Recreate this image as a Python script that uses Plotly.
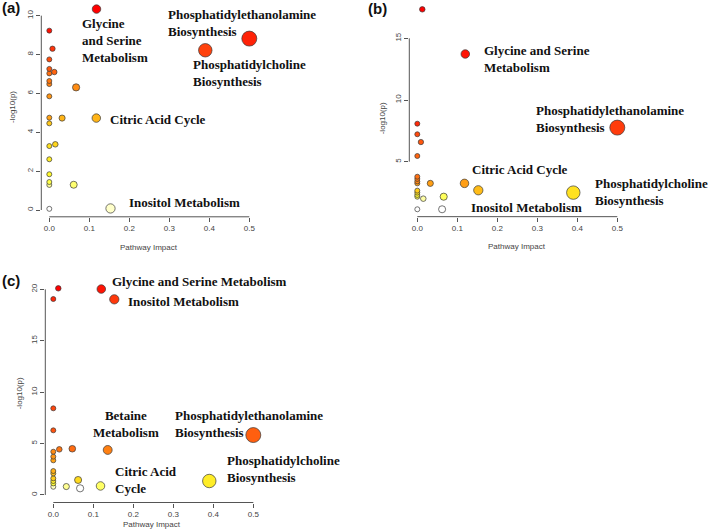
import numpy as np
import pandas as pd
import plotly.graph_objects as go

# ---------------- data ----------------
# Panel (a)
a_impact = [0.118, 0, 0.008, 0, 0, 0, 0.0125, 0, 0, 0.067, 0, 0.39, 0.5, 0, 0, 0.032,
            0.1175, 0, 0.015, 0, 0, 0, 0, 0.061, 0, 0.153]
a_logp = [10.34, 9.23, 8.30, 7.75, 7.26, 7.03, 7.10, 6.64, 6.48, 6.31, 5.85, 8.22, 8.82,
          4.75, 4.46, 4.73, 4.73, 3.29, 3.38, 2.61, 1.84, 1.44, 1.29, 1.30, 0.06, 0.08]
a_labels = {0: "Glycine<br>and Serine<br>Metabolism",
            12: "Phosphatidylethanolamine<br>Biosynthesis",
            11: "Phosphatidylcholine<br>Biosynthesis",
            16: "Citric Acid Cycle",
            25: "Inositol Metabolism"}

# Panel (b)
b_impact = [0.0125, 0.12, 0, 0, 0.009, 0, 0.5, 0, 0, 0, 0, 0.0325, 0.118, 0.1525, 0.39,
            0, 0, 0, 0, 0.015, 0.066, 0, 0.062]
b_logp = [17.35, 13.73, 8.08, 7.22, 6.59, 5.46, 7.76, 3.78, 3.60, 3.40, 3.24, 3.24, 3.24,
          2.68, 2.49, 2.65, 2.49, 2.30, 2.16, 2.00, 2.16, 1.14, 1.14]
b_labels = {1: "Glycine and Serine<br>Metabolism",
            6: "Phosphatidylethanolamine<br>Biosynthesis",
            12: "Citric Acid Cycle",
            13: "Inositol Metabolism",
            14: "Phosphatidylcholine<br>Biosynthesis"}

# Panel (c)
c_impact = [0.0125, 0, 0.12, 0.1525, 0, 0, 0.5, 0, 0.015, 0.0475, 0.136, 0, 0, 0, 0, 0,
            0, 0, 0, 0.0325, 0.062, 0.067, 0.118, 0.39]
c_logp = [20.10, 19.06, 20.03, 19.03, 8.43, 6.29, 5.83, 4.21, 4.44, 4.50, 4.38, 3.73, 3.37,
          2.33, 2.10, 1.62, 1.36, 1.13, 0.80, 0.82, 1.46, 0.65, 0.88, 1.36]
c_labels = {2: "Glycine and Serine Metabolism",
            3: "Inositol Metabolism",
            6: "Phosphatidylethanolamine<br>Biosynthesis",
            10: "Betaine<br>Metabolism",
            22: "Citric Acid<br>Cycle",
            23: "Phosphatidylcholine<br>Biosynthesis"}

x_ticks = [0.0, 0.1, 0.2, 0.3, 0.4, 0.5]
a_yticks = [0, 2, 4, 6, 8, 10]
b_yticks = [5, 10, 15]
c_yticks = [0, 5, 10, 15, 20]

# ---------------- styling / layout config ----------------
W, H = 708, 530
heat = [[0.0, "#ffffff"], [0.06, "#ffffb0"], [0.18, "#ffff30"], [0.33, "#ffd21a"],
        [0.5, "#ff9a14"], [0.7, "#ff6a10"], [0.86, "#ff3c0c"], [1.0, "#ff0000"]]

# label offsets (pixels) relative to their point: xshift, yshift, xanchor, align
a_off = {0: (-17, -31, "left", "left"), 12: (-83, 16, "left", "left"),
         11: (-14, -23, "left", "left"), 16: (12, -1, "left", "left"),
         25: (16, 6, "left", "left")}
b_off = {1: (17, -5, "left", "left"), 6: (-83, 9, "left", "left"),
         12: (5, 14, "left", "left"), 13: (-9, -17, "left", "left"),
         14: (20, 1, "left", "left")}
c_off = {2: (9, 8, "left", "left"), 3: (12, -2, "left", "left"),
         6: (-80, 11, "left", "left"), 10: (18, 26, "center", "center"),
         22: (12, 6, "left", "left"), 23: (16, 12, "left", "left")}

panels = [
    dict(ix="", impact=a_impact, logp=a_logp, labels=a_labels, off=a_off, yticks=a_yticks,
         xdom=[41.3, 257.3], ypx=[216.8, 1.1], yrange=[-0.35, 10.75],
         tag="(a)", tagpos=(0, 8), xt=(149, 247), yt=(12, 107)),
    dict(ix="2", impact=b_impact, logp=b_logp, labels=b_labels, off=b_off, yticks=b_yticks,
         xdom=[409.3, 625.3], ypx=[216.67, 1.33], yrange=[0.54, 18.0],
         tag="(b)", tagpos=(366, 9), xt=(517.3, 246.7), yt=(383.3, 118)),
    dict(ix="3", impact=c_impact, logp=c_logp, labels=c_labels, off=c_off, yticks=c_yticks,
         xdom=[45.3, 261.3], ypx=[502.5, 280.1], yrange=[-0.73, 20.9],
         tag="(c)", tagpos=(0, 280), xt=(151.7, 524), yt=(19.3, 393)),
]

fig = go.Figure()
annotations = []
shapes = []
tickfont = dict(family="Liberation Sans, Arial", size=8, color="#444")
axcol = "#555"

for p in panels:
    ix = p["ix"]
    xname, yname = "x" + ix, "y" + ix
    imp = np.array(p["impact"], dtype=float)
    lp = np.array(p["logp"], dtype=float)
    rank = pd.Series(lp).rank(method="average").to_numpy()
    cval = (rank - rank.min()) / (rank.max() - rank.min())
    sizes = np.sqrt(25 + 400 * imp)
    order = np.argsort(lp)  # draw low values first
    fig.add_trace(go.Scatter(
        x=imp[order], y=lp[order], mode="markers", xaxis=xname, yaxis=yname,
        cliponaxis=False, showlegend=False, hoverinfo="x+y",
        marker=dict(size=sizes[order], color=cval[order], colorscale=heat, cmin=0, cmax=1,
                    line=dict(color="#3a3a3a", width=0.7), opacity=1),
    ))
    xa = dict(domain=[p["xdom"][0] / W, p["xdom"][1] / W], range=[-0.02, 0.52],
              anchor=yname, tickvals=x_ticks, ticktext=[f"{v:.1f}" for v in x_ticks],
              ticks="outside", ticklen=4, tickcolor=axcol, tickwidth=1,
              showline=False, showgrid=False, zeroline=False, tickfont=tickfont)
    ya = dict(domain=[1 - p["ypx"][0] / H, 1 - p["ypx"][1] / H], range=p["yrange"],
              anchor=xname, tickvals=p["yticks"], ticktext=[str(v) for v in p["yticks"]],
              ticks="outside", ticklen=4, tickcolor=axcol, tickwidth=1, tickangle=-90,
              showline=False, showgrid=False, zeroline=False, tickfont=tickfont)
    fig.layout["xaxis" + ix] = xa
    fig.layout["yaxis" + ix] = ya
    # R-style axis lines spanning first to last tick
    shapes.append(dict(type="line", xref=xname, yref=yname + " domain",
                       x0=x_ticks[0], x1=x_ticks[-1], y0=0, y1=0,
                       line=dict(color=axcol, width=1)))
    shapes.append(dict(type="line", xref=xname + " domain", yref=yname,
                       x0=0, x1=0, y0=p["yticks"][0], y1=p["yticks"][-1],
                       line=dict(color=axcol, width=1)))
    # pathway labels
    for i, txt in p["labels"].items():
        xs, ys, xanc, al = p["off"][i]
        annotations.append(dict(
            x=imp[i], y=lp[i], xref=xname, yref=yname, text=txt, showarrow=False,
            xshift=xs, yshift=ys, xanchor=xanc, yanchor="middle", align=al,
            font=dict(family="Liberation Serif, Times New Roman", size=13, color="#111",
                      weight="bold")))
    # axis titles
    annotations.append(dict(x=p["xt"][0] / W, y=1 - p["xt"][1] / H, xref="paper", yref="paper",
                            text="Pathway Impact", showarrow=False, xanchor="center",
                            yanchor="middle",
                            font=dict(family="Liberation Sans, Arial", size=8, color="#444")))
    annotations.append(dict(x=p["yt"][0] / W, y=1 - p["yt"][1] / H, xref="paper", yref="paper",
                            text="-log10(p)", showarrow=False, textangle=-90, xanchor="center",
                            yanchor="middle",
                            font=dict(family="Liberation Sans, Arial", size=8, color="#444")))
    # panel tag
    annotations.append(dict(x=p["tagpos"][0] / W, y=1 - p["tagpos"][1] / H, xref="paper",
                            yref="paper", text=p["tag"], showarrow=False, xanchor="left",
                            yanchor="middle",
                            font=dict(family="Liberation Sans, Arial", size=15, color="#111",
                                      weight="bold")))

fig.update_layout(width=W, height=H, margin=dict(l=0, r=0, t=0, b=0),
                  plot_bgcolor="white", paper_bgcolor="white",
                  annotations=annotations, shapes=shapes)

fig.write_html("out.html", config={"displayModeBar": False},
               post_script="document.body.style.margin='0';document.body.style.padding='0';")
